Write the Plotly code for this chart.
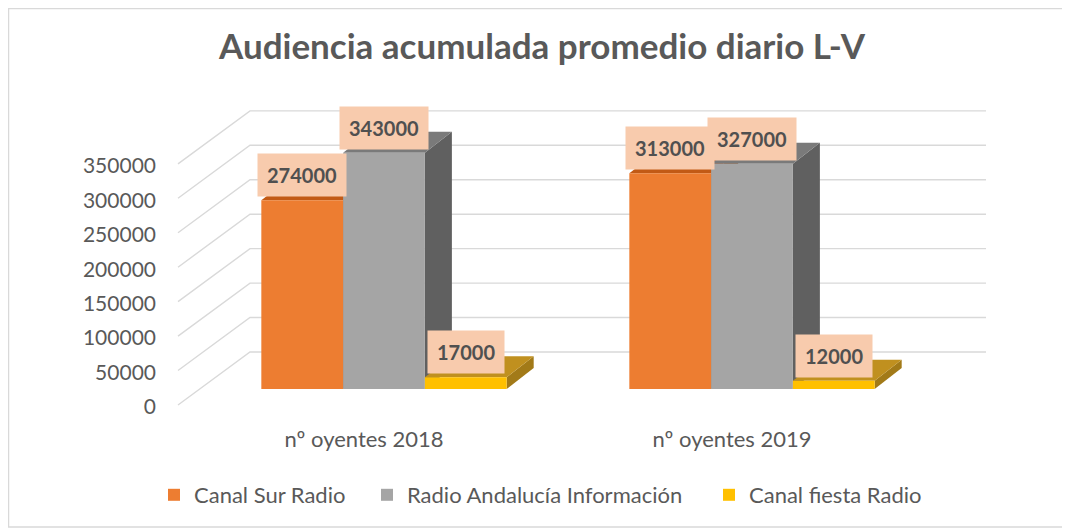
import plotly.graph_objects as go

# ---------------- data ----------------
categories = ["nº oyentes 2018", "nº oyentes 2019"]
series_names = ["Canal Sur Radio", "Radio Andalucía Información", "Canal fiesta Radio"]
canal_sur = [274000, 313000]
radio_andalucia = [343000, 327000]
canal_fiesta = [17000, 12000]
tick_values = [0, 50000, 100000, 150000, 200000, 250000, 300000, 350000]

series = [canal_sur, radio_andalucia, canal_fiesta]
front_colors = ["#ED7D31", "#A5A5A5", "#FFC000"]
top_colors = ["#C25A15", "#7A7A7A", "#C0901F"]
side_colors = ["#B0520F", "#606060", "#A27A18"]
TEXT = "#595959"
FONT = "Lato"

# ---------------- geometry (page pixels; page body has an 8px margin) ----------------
OFF = 8
W, H = 1070 - OFF, 529 - OFF
PLOT_L, PLOT_R, PLOT_T, PLOT_B = 165 - OFF, 990 - OFF, 95 - OFF, 424 - OFF
CAT0_PX = 384 - OFF   # pixel centre of first category group
CAT_PX = 368          # pixels per category
ZERO_PX = 389 - OFF   # pixel row of value 0 on the bars' front plane
PX_PER_UNIT = 0.000689
LEGEND_X_PX = [154, 367, 709]   # page x of each legend entry


def ux(px):
    return px / CAT_PX


def uy(px):
    return px / PX_PER_UNIT


x_range = [ux(PLOT_L - CAT0_PX), ux(PLOT_R - CAT0_PX)]
y_range = [-uy(PLOT_B - ZERO_PX), uy(ZERO_PX - PLOT_T)]
PW, PH = PLOT_R - PLOT_L, PLOT_B - PLOT_T

BARGAP = 1 / 3
n = len(series)
bw = (1 - BARGAP) / n
DDX, DDY = ux(27), uy(21)              # bar depth
BACK_DY = uy(389 - 352)                # back wall offset
FRONT_DY = -uy(405 - 389)              # front floor edge offset
BACK_X0, BACK_X1 = ux(250 - 384), ux(986 - 384)
FRONT_X = ux(178 - 384)
LABEL_DY = -uy(407 - 389)

fig = go.Figure()

# back wall gridlines + floor diagonals
gx, gy = [], []
for v in tick_values:
    gx += [FRONT_X, BACK_X0, BACK_X1, None]
    gy += [v + FRONT_DY, v + BACK_DY, v + BACK_DY, None]
fig.add_trace(go.Scatter(x=gx, y=gy, mode="lines", line=dict(color="#D9D9D9", width=1.4),
                         hoverinfo="skip", showlegend=False, zorder=0))

# 3D side and top faces
for i in range(len(categories)):
    for j, vals in enumerate(series):
        v = vals[i]
        xl = i + (j - (n - 1) / 2) * bw - bw / 2
        xr = xl + bw
        fig.add_trace(go.Scatter(
            x=[xr, xr + DDX, xr + DDX, xr, xr], y=[0, DDY, v + DDY, v, 0],
            mode="lines", fill="toself", fillcolor=side_colors[j], line=dict(width=0, color=side_colors[j]),
            hoverinfo="skip", showlegend=False, zorder=1))
        fig.add_trace(go.Scatter(
            x=[xl, xl + DDX, xr + DDX, xr, xl], y=[v, v + DDY, v + DDY, v, v],
            mode="lines", fill="toself", fillcolor=top_colors[j], line=dict(width=0, color=top_colors[j]),
            hoverinfo="skip", showlegend=False, zorder=1))

# front faces (real bars), each series in its own legend box for exact spacing
legend_keys = ["legend", "legend2", "legend3"]
for j, vals in enumerate(series):
    fig.add_trace(go.Bar(x=list(range(len(categories))), y=vals, name=series_names[j],
                         legend=legend_keys[j],
                         marker=dict(color=front_colors[j], line=dict(width=0)), zorder=2))

# data labels
annotations = []
for i in range(len(categories)):
    for j, vals in enumerate(series):
        v = vals[i]
        xc = i + (j - (n - 1) / 2) * bw
        annotations.append(dict(x=xc, y=v, xref="x", yref="y", text=str(v), showarrow=False,
                                yshift=25, bgcolor="#F8CBAD", borderpad=9,
                                font=dict(family=FONT, size=20, color="#505050", weight=700)))

legends = {}
for j, key in enumerate(legend_keys):
    legends[key] = dict(orientation="h", x=(LEGEND_X_PX[j] - OFF - PLOT_L) / PW, xanchor="left",
                        y=(PLOT_B - 466) / PH, yanchor="top", bgcolor="rgba(0,0,0,0)",
                        font=dict(family=FONT, size=22, color=TEXT), itemwidth=30)

fig.update_layout(
    width=W, height=H,
    margin=dict(l=PLOT_L, r=W - PLOT_R, t=PLOT_T, b=H - PLOT_B, pad=0),
    paper_bgcolor="white", plot_bgcolor="white",
    barmode="group", bargap=BARGAP, bargroupgap=0,
    title=dict(text="Audiencia acumulada promedio diario L-V", x=(542 - OFF) / W, xanchor="center",
               y=1 - (47 - OFF) / H, yanchor="middle",
               font=dict(family=FONT, size=35, color=TEXT, weight=700)),
    font=dict(family=FONT, color=TEXT),
    xaxis=dict(range=x_range, tickvals=list(range(len(categories))), ticktext=categories,
               ticklabelshift=-20, ticklabelstandoff=0,
               showgrid=False, zeroline=False, showline=False, ticks="",
               tickfont=dict(family=FONT, size=22, color=TEXT), fixedrange=True),
    yaxis=dict(range=y_range, tickvals=[v + LABEL_DY for v in tick_values],
               ticktext=[str(v) for v in tick_values], ticklabelstandoff=8,
               showgrid=False, zeroline=False, showline=False, ticks="",
               tickfont=dict(family=FONT, size=21, color=TEXT), fixedrange=True),
    annotations=annotations,
    shapes=[dict(type="rect", xref="paper", yref="paper",
                 x0=(0.5 - PLOT_L) / PW, x1=(W - 5 - PLOT_L) / PW,
                 y0=(PLOT_B - (H - 2)) / PH, y1=(PLOT_B - 0.5) / PH,
                 line=dict(color="#D9D9D9", width=1.5), layer="below")],
    hovermode=False,
    showlegend=True,
    **legends,
)

fig.write_html("out.html")
